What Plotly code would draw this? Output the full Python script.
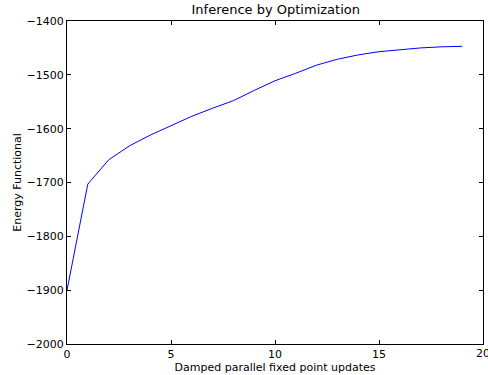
import plotly.graph_objects as go

updates = list(range(20))
energy = [-1900, -1703, -1658, -1632, -1612, -1594, -1577, -1562, -1548, -1529,
          -1511, -1497, -1482, -1471, -1463, -1457, -1453, -1450, -1448, -1447]

x_ticks = [0, 5, 10, 15, 20]
y_ticks = [-2000, -1900, -1800, -1700, -1600, -1500, -1400]

fig = go.Figure(go.Scatter(x=updates, y=energy, mode="lines",
                           line=dict(color="#0000ff", width=1)))

axis_common = dict(showgrid=False, zeroline=False, showline=True, linecolor="black",
                   linewidth=1, mirror="allticks", ticks="inside", ticklen=4,
                   tickcolor="black", tickfont=dict(family="DejaVu Sans", size=11, color="black"))

fig.update_layout(
    width=488, height=375,
    margin=dict(l=67, r=5, t=21, b=31),
    paper_bgcolor="white", plot_bgcolor="white",
    showlegend=False,
    title=dict(text="Inference by Optimization", x=0.565, xanchor="center", y=0.975, yanchor="middle",
               font=dict(family="DejaVu Sans", size=13, color="black")),
    xaxis=dict(range=[0, 20], tickvals=x_ticks, ticktext=[str(v) for v in x_ticks],
               title=dict(text="Damped parallel fixed point updates", standoff=1,
                          font=dict(family="DejaVu Sans", size=11, color="black")),
               **axis_common),
    yaxis=dict(range=[-2000, -1400], tickvals=y_ticks,
               ticktext=["\u2212" + str(abs(v)) for v in y_ticks],
               title=dict(text="Energy Functional", standoff=2,
                          font=dict(family="DejaVu Sans", size=11, color="black")),
               **axis_common),
)

# last tick label is clipped by the figure edge in the reference; plotly drops it, so add it back
fig.add_annotation(x=x_ticks[-1], xref="x", y=0, yref="paper", yanchor="top", yshift=-1,
                   text=str(x_ticks[-1]), showarrow=False, xanchor="center",
                   font=dict(family="DejaVu Sans", size=11, color="black"))

fig.write_html("out.html")
